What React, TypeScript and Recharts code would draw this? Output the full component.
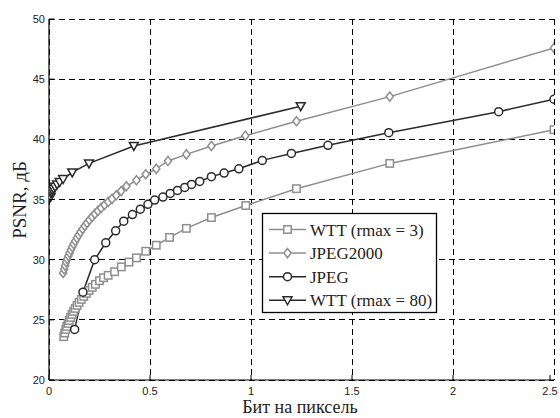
import { CartesianGrid, Line, LineChart, XAxis, YAxis } from 'recharts';

// bits per pixel / PSNR pairs
const wtt3Bpp = [
  0.073, 0.078, 0.083, 0.088, 0.094, 0.1, 0.107, 0.114, 0.122, 0.13, 0.139, 0.149, 0.16, 0.172,
  0.185, 0.199, 0.214, 0.23, 0.25, 0.27, 0.293, 0.325, 0.358, 0.396, 0.433, 0.479, 0.531, 0.597,
  0.68, 0.804, 0.974, 1.225, 1.687, 2.5,
];
const wtt3Psnr = [
  23.6, 23.9, 24.2, 24.45, 24.7, 24.95, 25.2, 25.45, 25.7, 25.95, 26.2, 26.45, 26.7, 26.95, 27.2,
  27.45, 27.7, 27.95, 28.25, 28.5, 28.7, 29.0, 29.4, 29.8, 30.15, 30.7, 31.2, 31.85, 32.6, 33.5,
  34.5, 35.9, 38.0, 40.8,
];

const j2kBpp = [
  0.07, 0.075, 0.08, 0.085, 0.09, 0.096, 0.102, 0.108, 0.115, 0.122, 0.13, 0.138, 0.147, 0.156,
  0.166, 0.177, 0.188, 0.2, 0.213, 0.227, 0.242, 0.258, 0.275, 0.293, 0.312, 0.333, 0.357, 0.383,
  0.433, 0.479, 0.531, 0.589, 0.68, 0.804, 0.972, 1.225, 1.687, 2.5,
];
const j2kPsnr = [
  28.9, 29.2, 29.5, 29.8, 30.05, 30.3, 30.55, 30.8, 31.05, 31.3, 31.55, 31.8, 32.05, 32.3, 32.55,
  32.8, 33.05, 33.3, 33.55, 33.8, 34.05, 34.3, 34.55, 34.8, 35.05, 35.35, 35.7, 36.1, 36.6, 37.1,
  37.55, 38.2, 38.75, 39.45, 40.3, 41.5, 43.55, 47.6,
];

const jpegBpp = [
  0.127, 0.168, 0.226, 0.281, 0.33, 0.37, 0.413, 0.452, 0.49, 0.523, 0.564, 0.6, 0.636, 0.672,
  0.706, 0.746, 0.804, 0.867, 0.94, 1.056, 1.2, 1.381, 1.682, 2.226, 2.5,
];
const jpegPsnr = [
  24.2, 27.3, 30.0, 31.4, 32.4, 33.2, 33.75, 34.2, 34.6, 34.95, 35.2, 35.5, 35.75, 36.0, 36.25,
  36.5, 36.9, 37.2, 37.55, 38.25, 38.83, 39.5, 40.55, 42.3, 43.33,
];

const wtt80Bpp = [0.008, 0.01, 0.013, 0.017, 0.022, 0.03, 0.04, 0.053, 0.07, 0.115, 0.198, 0.42, 1.246];
const wtt80Psnr = [35.2, 35.5, 35.6, 35.75, 35.9, 36.05, 36.25, 36.45, 36.7, 37.25, 38.0, 39.45, 42.75];

const xTicks = [0, 0.5, 1, 1.5, 2, 2.5];
const yTicks = [20, 25, 30, 35, 40, 45, 50];
const legendLabels = ['WTT (rmax = 3)', 'JPEG2000', 'JPEG', 'WTT (rmax = 80)'];

const zip = (xs: number[], ys: number[]) => xs.map((x, i) => ({ x, y: ys[i] }));

const GRAY = '#8e8e8e';
const DARK = '#2b2b2b';
const SERIF = '"Liberation Serif", "Times New Roman", serif';
const SANS = '"Liberation Sans", Arial, sans-serif';

type Marker = 'square' | 'diamond' | 'circle' | 'triangle';

function markerShape(kind: Marker, cx: number, cy: number, color: string, key?: string | number) {
  const common = { stroke: color, strokeWidth: 1.5, fill: '#fff' };
  if (kind === 'square') return <rect key={key} x={cx - 3.7} y={cy - 3.7} width={7.4} height={7.4} {...common} />;
  if (kind === 'diamond')
    return <polygon key={key} points={`${cx},${cy - 4.6} ${cx + 3.6},${cy} ${cx},${cy + 4.6} ${cx - 3.6},${cy}`} {...common} />;
  if (kind === 'circle') return <circle key={key} cx={cx} cy={cy} r={4} {...common} />;
  return <polygon key={key} points={`${cx - 4.5},${cy - 3.5} ${cx + 4.5},${cy - 3.5} ${cx},${cy + 4.5}`} {...common} />;
}

const dotFor = (kind: Marker, color: string) => (p: any) =>
  markerShape(kind, p.cx, p.cy, color, `${kind}-${p.index}`);

const XTick = (p: any) => (
  <g>
    <line x1={p.x} x2={p.x} y1={p.y} y2={p.y - 5} stroke="#000" />
    <text x={p.x} y={p.y + 15} textAnchor="middle" fontFamily={SANS} fontSize={11} fill="#222">
      {p.payload.value}
    </text>
  </g>
);

const YTick = (p: any) => (
  <g>
    <line x1={p.x} x2={p.x + 5} y1={p.y} y2={p.y} stroke="#000" />
    <text x={p.x - 4} y={p.y + 4} textAnchor="end" fontFamily={SANS} fontSize={11} fill="#222">
      {p.payload.value}
    </text>
  </g>
);

const series: { label: string; data: { x: number; y: number }[]; color: string; marker: Marker }[] = [
  { label: legendLabels[0], data: zip(wtt3Bpp, wtt3Psnr), color: GRAY, marker: 'square' },
  { label: legendLabels[1], data: zip(j2kBpp, j2kPsnr), color: GRAY, marker: 'diamond' },
  { label: legendLabels[2], data: zip(jpegBpp, jpegPsnr), color: DARK, marker: 'circle' },
  { label: legendLabels[3], data: zip(wtt80Bpp, wtt80Psnr), color: DARK, marker: 'triangle' },
];

export default function App() {
  return (
    <div style={{ position: 'absolute', left: 0, top: 0, width: 560, height: 418, background: '#fff' }}>
      <LineChart width={560} height={418} margin={{ top: 19, right: 6, bottom: 0, left: 0 }}>
        <CartesianGrid stroke="#000" strokeDasharray="6 4" strokeWidth={1} shapeRendering="crispEdges" />
        <XAxis
          type="number"
          dataKey="x"
          domain={[0, 2.5]}
          ticks={xTicks}
          height={38}
          tickSize={0}
          tickMargin={0}
          axisLine={{ stroke: '#000', strokeWidth: 1.2 }}
          tickLine={false}
          tick={XTick}
          allowDataOverflow
        />
        <YAxis
          type="number"
          dataKey="y"
          domain={[20, 50]}
          ticks={yTicks}
          width={49}
          tickSize={0}
          tickMargin={0}
          axisLine={{ stroke: '#000', strokeWidth: 1.2 }}
          tickLine={false}
          tick={YTick}
          allowDataOverflow
        />
        {series.map((s) => (
          <Line
            key={s.label}
            data={s.data}
            dataKey="y"
            type="linear"
            stroke={s.color}
            strokeWidth={1.5}
            dot={dotFor(s.marker, s.color)}
            activeDot={false}
            isAnimationActive={false}
          />
        ))}
      </LineChart>
      <svg width={560} height={418} style={{ position: 'absolute', left: 0, top: 0, pointerEvents: 'none' }}>
        <text x={300} y={413} textAnchor="middle" fontFamily={SERIF} fontSize={18} fill="#222">
          Бит на пиксель
        </text>
        <text
          transform="translate(26,200) rotate(-90)"
          textAnchor="middle"
          fontFamily={SERIF}
          fontSize={19}
          fill="#222"
        >
          PSNR, дБ
        </text>
        <rect x={262.5} y={213.5} width={174} height={99} fill="#fff" stroke="#000" strokeWidth={1.3} />
        {series.map((s, i) => {
          const cy = 229.5 + i * 23.6;
          return (
            <g key={s.label}>
              <line x1={269} x2={306} y1={cy} y2={cy} stroke={s.color} strokeWidth={1.5} />
              {markerShape(s.marker, 287.5, cy, s.color)}
              <text x={310} y={cy + 6} fontFamily={SERIF} fontSize={17} fill="#222">
                {s.label}
              </text>
            </g>
          );
        })}
      </svg>
    </div>
  );
}
